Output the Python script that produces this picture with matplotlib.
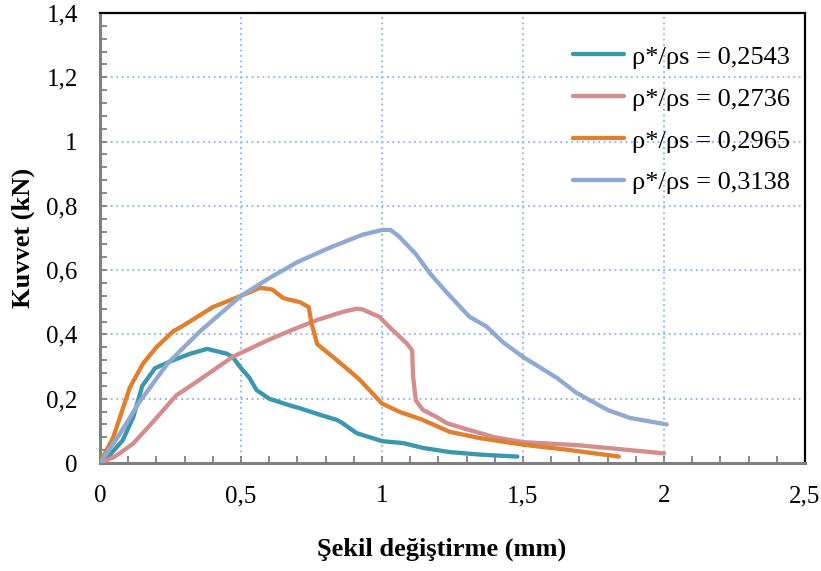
import matplotlib
matplotlib.use("Agg")
import matplotlib.pyplot as plt
from matplotlib.ticker import MultipleLocator, FuncFormatter

# Force–displacement curves for four relative densities
x_2543 = [0.0, 0.03, 0.08, 0.117, 0.15, 0.195, 0.26, 0.32, 0.38, 0.45, 0.47, 0.50, 0.53,
          0.555, 0.60, 0.67, 0.71, 0.78, 0.84, 0.86, 0.91, 1.0, 1.075, 1.145, 1.24, 1.35, 1.48]
y_2543 = [0.0, 0.02, 0.07, 0.14, 0.24, 0.295, 0.32, 0.34, 0.355, 0.34, 0.33, 0.295, 0.265,
          0.227, 0.20, 0.18, 0.17, 0.15, 0.134, 0.124, 0.093, 0.068, 0.062, 0.047, 0.034, 0.026, 0.02]

x_2736 = [0.0, 0.053, 0.117, 0.19, 0.27, 0.355, 0.47, 0.59, 0.67, 0.77, 0.86, 0.91, 0.93,
          0.99, 1.03, 1.09, 1.107, 1.11, 1.12, 1.145, 1.19, 1.23, 1.3, 1.4, 1.5, 1.7, 2.0]
y_2736 = [0.0, 0.02, 0.06, 0.13, 0.21, 0.26, 0.33, 0.38, 0.41, 0.445, 0.47, 0.48, 0.478,
          0.455, 0.42, 0.37, 0.35, 0.27, 0.195, 0.165, 0.145, 0.124, 0.105, 0.08, 0.065, 0.055, 0.03]

x_2965 = [0.0, 0.047, 0.106, 0.153, 0.2, 0.26, 0.3, 0.4, 0.5, 0.567, 0.61, 0.65, 0.71,
          0.74, 0.75, 0.77, 0.84, 0.92, 1.0, 1.06, 1.145, 1.24, 1.35, 1.5, 1.65, 1.84]
y_2965 = [0.0, 0.08, 0.235, 0.31, 0.36, 0.41, 0.43, 0.485, 0.52, 0.545, 0.54, 0.513, 0.50,
          0.485, 0.435, 0.37, 0.32, 0.26, 0.185, 0.16, 0.134, 0.097, 0.077, 0.057, 0.042, 0.02]

x_3138 = [0.0, 0.07, 0.14, 0.24, 0.355, 0.5, 0.6, 0.7, 0.815, 0.93, 1.0, 1.03, 1.06, 1.12,
          1.17, 1.23, 1.31, 1.37, 1.43, 1.5, 1.62, 1.69, 1.80, 1.88, 2.01]
y_3138 = [0.0, 0.09, 0.19, 0.31, 0.41, 0.52, 0.575, 0.625, 0.67, 0.71, 0.725, 0.725, 0.705, 0.65,
          0.59, 0.53, 0.455, 0.425, 0.375, 0.33, 0.265, 0.218, 0.165, 0.14, 0.12]

labels = ["ρ*/ρs = 0,2543", "ρ*/ρs = 0,2736", "ρ*/ρs = 0,2965", "ρ*/ρs = 0,3138"]
colors = ["#3B97AE", "#D38D8C", "#E17F30", "#8FA9D1"]

plt.rcParams["font.family"] = ["Liberation Serif", "DejaVu Serif"]

fig = plt.figure(figsize=(8.21, 5.71), dpi=100)
ax = fig.add_axes([100 / 821, 1 - 463 / 571, 705 / 821, 450 / 571])

series = [(x_2543, y_2543), (x_2736, y_2736), (x_2965, y_2965), (x_3138, y_3138)]
for (xs, ys), lab, c in zip(series, labels, colors):
    ax.plot(xs, ys, color=c, lw=3.1, label=lab, solid_capstyle="round",
            solid_joinstyle="round", zorder=3)

ax.set_xlim(0, 2.5)
ax.set_ylim(0, 1.4)
ax.xaxis.set_major_locator(MultipleLocator(0.5))
ax.xaxis.set_minor_locator(MultipleLocator(0.1))
ax.yaxis.set_major_locator(MultipleLocator(0.2))
ax.yaxis.set_minor_locator(MultipleLocator(0.04))

def comma_fmt(v, pos):
    s = ("%.1f" % v).rstrip("0").rstrip(".")
    return s.replace(".", ",")

ax.xaxis.set_major_formatter(FuncFormatter(comma_fmt))
ax.yaxis.set_major_formatter(FuncFormatter(comma_fmt))

ax.grid(True, which="major", color="#8DB4E2", linestyle=(0, (1, 2)), lw=1.3, zorder=1)
ax.tick_params(which="both", direction="in", length=5, width=1.3, color="#808080",
               labelsize=18)
ax.tick_params(axis="x", which="both", pad=16)
ax.tick_params(axis="y", which="both", pad=16)
ax.tick_params(which="both", top=False, right=False)

for side in ("left", "bottom"):
    ax.spines[side].set_color("#808080")
    ax.spines[side].set_linewidth(2.2)
for side in ("top", "right"):
    ax.spines[side].set_color("black")
    ax.spines[side].set_linewidth(1.6)

ax.set_xlabel("Şekil değiştirme (mm)", fontsize=19, fontweight="bold", labelpad=22)
ax.xaxis.label.set_x(0.485)
ax.set_ylabel("Kuvvet (kN)", fontsize=19, fontweight="bold", labelpad=8)

leg = ax.legend(loc="upper right", bbox_to_anchor=(0.993, 0.952), frameon=False,
                fontsize=19, handlelength=1.9, handletextpad=0.3, labelspacing=0.7,
                borderaxespad=0.0)

fig.savefig("out.png", dpi=100)
